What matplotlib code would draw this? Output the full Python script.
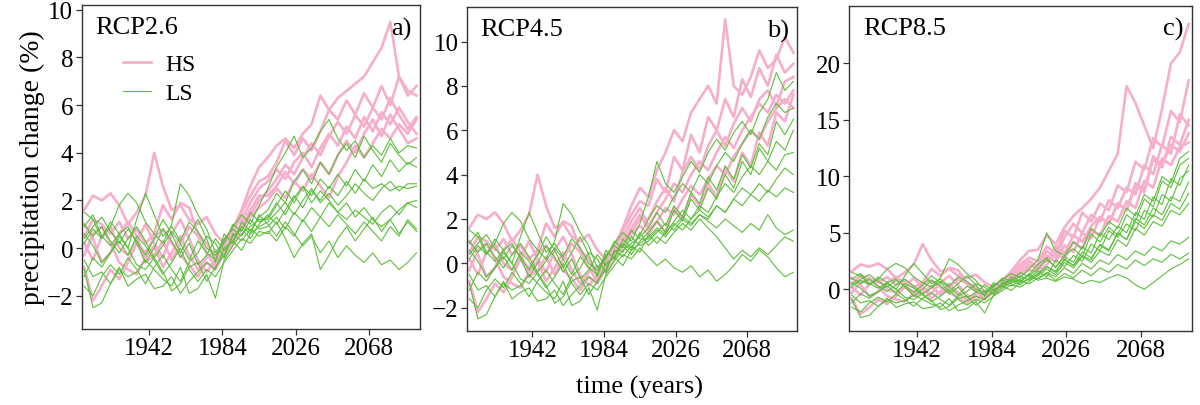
import numpy as np
import matplotlib.pyplot as plt

plt.rcParams['font.family'] = ['Liberation Serif', 'DejaVu Serif']

# years sampled every 5 years, historical part shared by all scenarios
years = np.arange(1905, 2096, 5)

# historical runs 1905-2005, high sensitivity (HS) models
hist_hs = [
    [1.6, 2.2, 2.0, 2.3, 1.8, 1.0, 1.5, 2.2, 4.0, 2.6, 1.6, 1.8, 1.2, 1.0, 1.3, 0.6, 0.2, 0.8, 1.6, 2.6, 3.4],
    [0.5, 1.2, 1.0, 0.6, 1.1, 0.4, 0.8, 0.2, 0.6, 1.8, 1.2, 1.9, 1.7, 0.6, 0.2, -0.4, 0.1, 0.6, 1.5, 2.2, 2.8],
    [-0.8, -2.2, -1.6, -0.9, -1.3, -0.6, 0.2, -0.2, 0.4, 0.8, 0.2, -0.3, -0.7, -1.2, -0.6, -0.9, -0.2, 0.4, 0.9, 1.4, 2.0],
    [0.2, -0.5, 0.5, 0.9, 0.0, -0.3, 0.3, 1.0, 0.2, -0.4, 0.6, 1.2, 0.4, -0.5, -1.0, -0.5, 0.0, 0.8, 1.2, 1.9, 2.5],
    [1.0, 0.4, -0.6, -0.2, 0.6, 1.1, 0.5, -0.6, -0.3, 0.3, -0.5, 0.2, 0.9, 0.5, -0.2, -0.8, 0.3, 0.5, 1.0, 1.6, 2.2],
    [-0.3, 0.6, 0.9, 0.2, -0.6, -0.9, -1.1, -0.4, 0.1, -0.8, -0.2, 0.5, -0.3, -0.9, -0.4, -0.1, -0.4, 0.2, 0.8, 1.3, 1.7],
]

# historical runs, low sensitivity (LS) models
hist_ls = [
    [1.5, 1.2, 0.4, 0.9, 1.8, 2.3, 1.9, 1.1, 0.6, 0.2, 1.0, 2.7, 2.2, 1.4, 0.8, -0.2, 0.3, 0.9, 1.4, 1.0, 1.8],
    [0.4, 0.9, 1.3, 0.7, 0.2, 0.8, 0.3, -0.3, 0.4, 1.2, 0.6, -0.2, 0.5, 1.2, 0.4, -0.6, 0.6, 0.2, 1.1, 0.7, 1.3],
    [-0.9, -2.5, -2.3, -1.5, -0.9, -1.2, -1.0, -0.5, -0.9, -1.3, -1.6, -0.8, -1.9, -1.7, -1.1, -2.1, -0.5, 0.1, 0.6, 0.9, 1.2],
    [0.6, 0.1, -0.6, -0.2, 0.5, 0.0, -0.7, -0.9, -0.4, -1.0, -1.8, -1.5, -0.8, -0.6, -1.4, -0.8, -0.3, 0.5, 0.8, 0.4, 1.0],
    [-0.5, -1.2, -1.0, -1.5, -0.8, -1.6, -1.3, -1.1, -1.7, -1.6, -1.2, -1.9, -1.4, -1.0, -0.6, -0.9, 0.0, 0.3, -0.1, 0.6, 0.9],
    [1.0, 0.5, 0.9, 0.3, -0.2, 0.4, 0.9, 0.3, -0.4, 0.1, 0.7, 0.2, -0.5, 0.3, -0.2, -0.5, 0.4, 0.8, 0.5, 1.2, 0.8],
    [-1.6, -2.0, -1.2, -0.7, -1.1, -0.4, -0.9, -1.5, -0.8, -0.3, -0.9, -1.4, -0.6, -0.2, 0.5, 0.2, -0.4, 0.6, 0.3, 0.8, 0.5],
    [0.2, 0.8, 0.4, 1.1, 0.6, 0.0, 1.2, 2.3, 1.4, 0.5, 0.9, 0.3, 1.1, 0.7, 0.0, -0.3, 0.2, 1.0, 0.7, 1.5, 1.1],
    [0.9, 1.4, 0.5, 0.1, 0.6, 0.9, 0.2, -0.6, 0.0, 0.8, 0.3, -0.4, 0.2, -0.7, -0.3, 0.4, -0.1, 0.3, 0.9, 0.6, 1.4],
    [-1.2, -0.4, -0.8, -0.2, 0.3, -0.3, 0.5, 0.1, -0.5, -1.1, -0.6, 0.0, -0.9, -1.4, -0.9, -1.2, -0.6, -0.1, 0.4, 0.2, 0.7],
]

# scenario runs 2010-2095
rcp26_hs = [
    [3.8, 4.3, 4.6, 4.2, 4.8, 5.2, 6.4, 5.8, 6.3, 6.6, 6.9, 7.2, 7.8, 8.4, 9.5, 7.2, 6.6, 6.4],
    [3.0, 3.6, 4.5, 3.9, 4.6, 4.1, 4.9, 5.8, 5.4, 6.2, 5.6, 6.5, 5.9, 6.8, 6.0, 7.2, 6.4, 6.8],
    [2.4, 2.9, 3.5, 3.1, 3.8, 4.4, 3.9, 4.7, 5.3, 4.8, 5.6, 5.1, 5.9, 5.4, 6.3, 5.6, 5.0, 5.5],
    [2.8, 3.3, 2.9, 3.6, 4.0, 3.4, 4.2, 4.8, 4.3, 5.1, 4.6, 5.5, 4.9, 5.7, 5.2, 5.9, 5.3, 4.8],
    [2.2, 2.6, 3.2, 2.7, 3.3, 2.9, 3.6, 3.1, 3.9, 4.5, 4.0, 4.8, 5.4, 4.7, 5.6, 5.0, 4.4, 4.6],
    [2.0, 2.5, 2.1, 2.8, 2.4, 3.1, 2.6, 2.1, 3.0, 3.6, 4.3, 3.8, 4.4, 5.0, 4.6, 5.2, 4.8, 5.4],
]
rcp26_ls = [
    [2.5, 3.4, 4.0, 4.7, 3.8, 4.2, 4.9, 5.4, 4.6, 4.1, 4.5, 3.8, 4.3, 3.9, 4.6, 4.0, 4.3, 4.2],
    [1.6, 2.3, 1.9, 2.8, 3.3, 2.7, 3.6, 3.1, 3.9, 4.4, 3.8, 4.7, 4.1, 3.6, 4.4, 3.9, 3.5, 3.8],
    [1.2, 1.8, 2.4, 1.9, 2.6, 2.2, 2.9, 2.5, 3.1, 2.6, 3.3, 2.8, 3.5, 3.0, 3.7, 3.2, 3.6, 3.4],
    [1.4, 1.0, 1.6, 2.2, 1.7, 2.4, 2.0, 2.6, 2.2, 2.8, 2.3, 2.9, 2.5, 2.7, 2.4, 2.6, 2.5, 2.6],
    [1.1, 1.5, 1.9, 1.4, 2.0, 2.5, 1.9, 2.3, 1.8, 2.2, 2.7, 2.3, 2.0, 2.5, 2.8, 2.4, 2.7, 2.7],
    [0.9, 1.3, 0.8, 1.5, 1.1, 1.7, 1.3, 1.9, 1.5, 1.2, 1.6, 1.3, 1.0, 1.5, 1.8, 1.4, 1.9, 2.0],
    [0.7, 0.3, 0.9, 0.5, 1.2, 0.7, 1.3, 0.9, 1.4, 1.0, 0.6, 1.1, 0.7, 0.3, 0.9, 0.5, 1.2, 0.8],
    [1.3, 1.9, 1.4, 2.1, 2.6, 1.9, 2.4, 2.0, 1.5, 1.9, 1.3, 1.7, 1.2, 0.9, 1.2, 0.6, 1.1, 0.7],
    [1.0, 0.5, 1.1, 0.6, 0.1, 0.5, -0.2, 0.3, -0.4, 0.1, -0.3, -0.6, -0.2, -0.7, -0.5, -0.9, -0.6, -0.2],
    [0.6, 1.1, 0.4, -0.4, 0.2, 0.6, -0.9, -0.3, 0.4, 0.9, 0.3, 0.8, 1.3, 0.7, 1.2, 1.6, 1.9, 1.7],
]

rcp45_hs = [
    [3.0, 4.2, 5.0, 6.0, 5.5, 6.8, 7.4, 8.0, 7.2, 11.0, 8.0, 7.6, 8.4, 9.6, 8.8, 9.2, 10.2, 9.5],
    [2.6, 3.8, 3.2, 4.8, 4.2, 5.8, 5.0, 6.6, 6.0, 7.4, 6.6, 8.3, 7.5, 8.8, 8.0, 9.4, 8.6, 9.0],
    [2.0, 2.8, 3.4, 2.8, 4.1, 4.8, 4.2, 5.3, 6.0, 5.3, 6.3, 7.0, 6.4, 7.4, 7.8, 7.1, 8.2, 8.4],
    [1.7, 2.3, 2.9, 3.6, 3.2, 4.0, 4.6, 4.2, 5.0, 5.7, 5.2, 6.0, 6.6, 7.2, 6.8, 7.6, 7.2, 7.8],
    [1.5, 1.9, 2.5, 2.2, 2.9, 3.5, 3.1, 3.8, 4.4, 4.0, 4.8, 5.4, 6.0, 5.6, 6.4, 7.0, 7.4, 7.0],
    [1.3, 1.9, 1.4, 2.5, 2.0, 3.1, 2.6, 3.6, 3.0, 4.3, 3.7, 5.0, 4.4, 5.9, 5.3, 6.8, 6.4, 7.6],
]
rcp45_ls = [
    [3.0, 4.6, 3.6, 3.2, 3.9, 4.6, 4.1, 5.0, 5.6, 5.1, 5.9, 6.4, 5.8, 6.8, 7.4, 8.6, 7.8, 8.2],
    [2.0, 2.6, 2.3, 3.0, 3.6, 3.2, 4.0, 3.6, 4.4, 5.0, 4.6, 5.4, 6.0, 5.6, 6.6, 7.2, 6.8, 7.0],
    [1.6, 2.3, 1.7, 2.6, 2.1, 3.2, 2.7, 3.9, 3.3, 4.4, 3.8, 4.9, 4.3, 5.4, 4.9, 6.4, 5.8, 6.5],
    [1.4, 1.9, 1.4, 2.4, 1.9, 2.9, 2.4, 3.4, 2.9, 4.0, 3.4, 4.6, 4.0, 5.2, 4.6, 5.5, 5.1, 6.0],
    [1.2, 1.6, 1.3, 1.9, 2.4, 2.0, 2.6, 2.3, 3.0, 3.6, 3.2, 3.9, 4.4, 4.0, 4.6, 4.2, 4.9, 5.0],
    [1.0, 1.4, 1.8, 1.5, 2.0, 1.7, 2.2, 2.0, 2.6, 2.3, 2.9, 3.4, 3.1, 3.6, 3.2, 3.8, 4.3, 4.0],
    [1.3, 0.9, 1.4, 1.8, 1.5, 2.0, 2.4, 2.1, 2.6, 2.3, 2.9, 2.6, 3.1, 2.8, 3.3, 3.0, 3.4, 3.2],
    [1.1, 1.5, 1.2, 1.7, 2.1, 1.8, 2.2, 1.9, 1.6, 2.0, 1.7, 1.4, 1.8, 1.5, 2.2, 1.6, 1.3, 1.5],
    [0.8, 1.2, 0.9, 1.4, 1.8, 1.5, 2.0, 1.6, 1.2, 0.7, 0.2, 0.6, 0.3, 0.7, 0.4, 0.8, 1.2, 1.0],
    [0.3, -0.1, 0.2, -0.2, -0.4, -0.1, -0.6, -0.3, -0.8, -0.5, -0.1, 0.4, 0.1, 0.6, 0.3, -0.2, -0.6, -0.4],
]

rcp85_hs = [
    [3.5, 4.8, 4.0, 5.5, 6.5, 7.2, 8.0, 9.0, 10.5, 12.0, 18.0, 16.5, 14.5, 12.5, 16.0, 20.0, 21.0, 23.5],
    [2.5, 3.8, 3.2, 5.2, 4.6, 6.8, 6.0, 7.6, 7.0, 9.2, 8.6, 11.3, 10.6, 13.4, 12.6, 15.8, 14.8, 18.5],
    [2.2, 3.4, 2.8, 4.6, 5.8, 5.0, 6.6, 6.0, 7.9, 7.2, 9.0, 8.4, 11.0, 10.2, 12.8, 12.0, 15.5, 14.5],
    [2.0, 2.6, 3.8, 3.2, 4.8, 4.2, 5.6, 6.4, 5.8, 7.6, 7.0, 9.2, 8.6, 11.5, 10.8, 13.5, 12.8, 15.0],
    [1.8, 3.0, 2.4, 3.9, 3.3, 5.0, 4.5, 6.4, 5.8, 7.6, 7.0, 9.4, 8.8, 11.8, 11.0, 12.8, 12.2, 13.8],
    [1.6, 2.2, 3.2, 2.7, 4.2, 3.6, 5.3, 4.8, 6.5, 6.0, 7.8, 7.2, 9.6, 9.0, 11.6, 11.0, 12.6, 13.0],
]
rcp85_ls = [
    [2.6, 5.0, 3.4, 3.0, 4.2, 3.6, 5.4, 4.7, 6.0, 5.4, 7.2, 6.5, 8.4, 7.8, 10.0, 9.4, 11.6, 12.2],
    [2.2, 2.8, 1.9, 3.0, 3.6, 2.9, 4.9, 4.2, 5.5, 4.8, 6.6, 6.0, 8.0, 7.3, 9.6, 9.0, 11.0, 11.6],
    [1.8, 2.6, 2.0, 2.9, 2.4, 3.8, 3.2, 5.0, 4.4, 5.6, 5.0, 6.8, 6.2, 8.2, 7.5, 9.8, 9.2, 11.0],
    [1.6, 1.1, 2.6, 2.0, 3.0, 2.5, 4.0, 3.4, 5.2, 4.6, 5.8, 5.2, 7.0, 6.4, 8.4, 7.8, 9.8, 10.5],
    [1.4, 2.0, 1.5, 2.7, 2.1, 3.0, 2.6, 4.0, 3.5, 5.0, 4.4, 6.0, 5.4, 6.6, 6.1, 7.6, 7.1, 8.5],
    [1.2, 1.8, 1.3, 2.4, 1.9, 2.9, 2.4, 3.4, 3.0, 4.4, 3.8, 5.4, 4.8, 6.0, 5.6, 7.0, 6.6, 7.6],
    [1.0, 1.5, 1.1, 1.9, 1.4, 2.3, 1.8, 2.6, 2.2, 3.1, 2.6, 3.4, 3.0, 3.8, 3.4, 4.3, 4.0, 4.6],
    [0.9, 1.4, 0.8, 1.4, 1.0, 1.7, 1.2, 1.9, 1.5, 2.2, 1.8, 2.6, 2.1, 2.7, 2.4, 3.1, 2.7, 3.2],
    [0.8, 1.0, 0.7, 1.1, 0.9, 0.5, 0.8, 0.6, 1.0, 1.3, 1.0, 0.4, 0.0, 0.6, 1.2, 1.8, 2.2, 2.7],
    [1.3, 2.0, 1.6, 2.6, 2.1, 3.3, 2.8, 3.9, 3.4, 5.0, 4.4, 6.3, 5.7, 7.2, 6.6, 8.2, 7.8, 9.5],
]

scenarios = ['RCP2.6', 'RCP4.5', 'RCP8.5']
panel_tags = ['a)', 'b)', 'c)']
proj_hs = [rcp26_hs, rcp45_hs, rcp85_hs]
proj_ls = [rcp26_ls, rcp45_ls, rcp85_ls]
ylims = [(-3.4, 10.2), (-3.05, 11.55), (-3.7, 25.1)]
yticks = [[-2, 0, 2, 4, 6, 8, 10], [-2, 0, 2, 4, 6, 8, 10], [0, 5, 10, 15, 20]]

pink = '#f7aecb'
green = '#5dbe3c'

fig = plt.figure(figsize=(12, 4.06), dpi=100)
boxes = [
    [0.068, 0.187, 0.282, 0.798],
    [0.389, 0.182, 0.275, 0.798],
    [0.7075, 0.182, 0.286, 0.801],
]

for i in range(3):
    ax = fig.add_axes(boxes[i])
    for k in range(len(hist_hs)):
        ax.plot(years, hist_hs[k] + proj_hs[i][k], color=pink, lw=1.9,
                label='HS' if k == 0 else None)
    for k in range(len(hist_ls)):
        ax.plot(years, hist_ls[k] + proj_ls[i][k], color=green, lw=0.8,
                label='LS' if k == 0 else None)

    ax.set_xlim(1903.5, 2097)
    ax.set_ylim(*ylims[i])
    ax.set_xticks([1942, 1984, 2026, 2068])
    ax.set_yticks(yticks[i])
    ax.tick_params(labelsize=18, length=4, width=0.9, color='#333333', pad=2)
    for sp in ax.spines.values():
        sp.set_color('#333333')
        sp.set_linewidth(1.0)

    ax.text(0.04, 0.965, scenarios[i], transform=ax.transAxes, fontsize=19,
            ha='left', va='top')
    ax.text(0.975, 0.965, panel_tags[i], transform=ax.transAxes, fontsize=19,
            ha='right', va='top')

    if i == 0:
        ax.set_ylabel('precipitation change (%)', fontsize=20, labelpad=1)
        ax.legend(loc='upper left', bbox_to_anchor=(0.06, 0.915), frameon=False,
                  fontsize=17, handlelength=1.2, handletextpad=0.6,
                  labelspacing=0.3)

fig.text(0.533, 0.045, 'time (years)', ha='center', va='center', fontsize=19)

fig.savefig('out.png', dpi=100)
